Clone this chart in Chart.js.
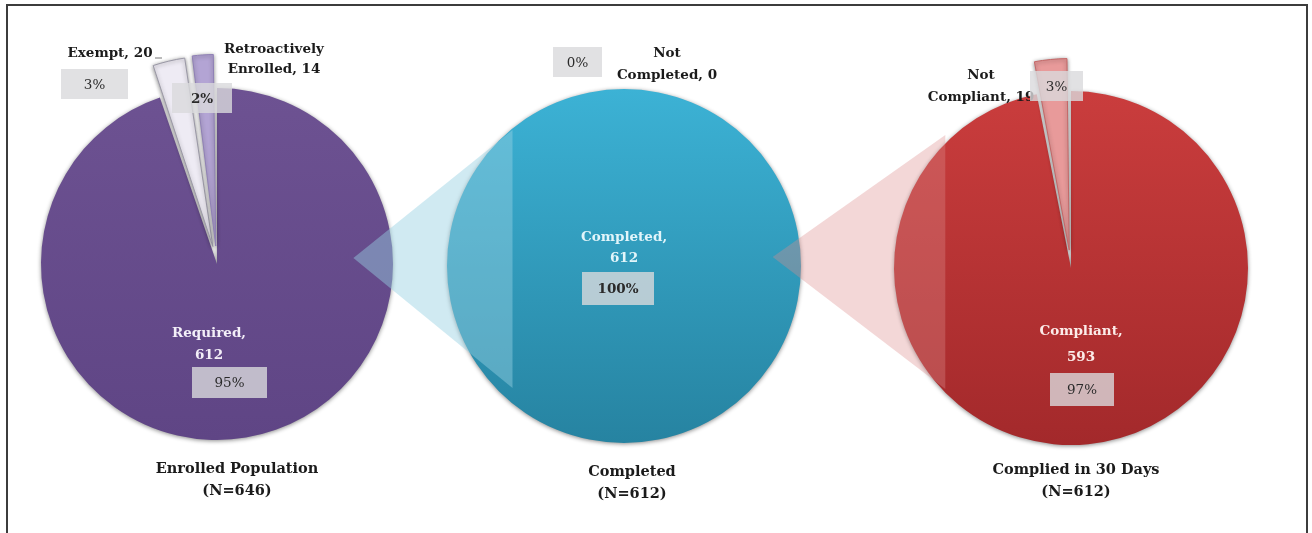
<!DOCTYPE html>
<html>
<head>
<meta charset="utf-8">
<script src="https://cdn.jsdelivr.net/npm/chart.js@4.4.1/dist/chart.umd.min.js"></script>
<style>
  html, body { margin: 0; padding: 0; background: #fff; }
  #wrap { position: relative; width: 1312px; height: 533px; overflow: hidden; }
  #wrap canvas { position: absolute; left: 0; top: 0; }
  #frame { position: absolute; left: 6px; top: 4px; width: 1302px; height: 600px; border: 2px solid #3c3c3c; box-sizing: border-box; }
</style>
</head>
<body>
<div id="wrap">
  <div id="frame"></div>
  <canvas id="pie1" width="1312" height="533"></canvas>
  <canvas id="pie2" width="1312" height="533"></canvas>
  <canvas id="pie3" width="1312" height="533"></canvas>
</div>
<script>
// data
const enrolledLabels = ["Required", "Exempt", "Retroactively Enrolled"];
const enrolledValues = [612, 20, 14];
const completedLabels = ["Completed", "Not Completed"];
const completedValues = [612, 0];
const compliedLabels = ["Compliant", "Not Compliant"];
const compliedValues = [593, 19];
const chartTitles = ["Enrolled Population", "Completed", "Complied in 30 Days"];

const W = 1312, H = 533;
const SERIF = '"DejaVu Serif", "Liberation Serif", serif';

// layout: pie centre/radius, and label offsets from the pie centre
const pies = [
  {
    cx: 217, cy: 264, r: 176,
    main: ["#6d5292", "#5f4585"], colors: [null, "#eeebf4", "#b3a4d4"],
    borders: ["rgba(0,0,0,0)", "#9a98a6", "#8f80b5"], offsets: [0, 72, 72],
    slices: [
      { lines: [[-8, 69], [-8, 91]], wrap: true, color: "#f3eff8", box: [-25, 103, 75, 31], boxBold: false },
      { lines: [[-107, -211]], wrap: false, color: "#1b1b1b", box: [-156, -195, 67, 30], boxBold: false, leader: [[-62, -206], [-55, -206]] },
      { lines: [[57, -215], [57, -195]], wrap: true, color: "#1b1b1b", box: [-45, -181, 60, 30], boxBold: true },
    ],
    title: [20, 205],
  },
  {
    cx: 624, cy: 266, r: 177,
    main: ["#3cb2d5", "#2683a1"], colors: [null, "#9fd6e6"],
    borders: ["rgba(0,0,0,0)", "#ffffff"], offsets: [0, 0],
    slices: [
      { lines: [[0, -29], [0, -8]], wrap: true, color: "#e2f5fa", box: [-42, 6, 72, 33], boxBold: true },
      { lines: [[43, -213], [43, -191]], wrap: true, color: "#1b1b1b", box: [-71, -219, 49, 30], boxBold: false },
    ],
    title: [8, 206],
  },
  {
    cx: 1071, cy: 268, r: 177,
    main: ["#ca3d3d", "#a3292b"], colors: [null, "#e89a9a"],
    borders: ["rgba(0,0,0,0)", "#c46666"], offsets: [0, 72],
    slices: [
      { lines: [[10, 63], [10, 89]], wrap: true, color: "#fcece9", box: [-21, 105, 64, 33], boxBold: false },
      { lines: [[-90, -193], [-90, -171]], wrap: true, color: "#1b1b1b", box: [-41, -197, 53, 30], boxBold: false },
    ],
    title: [5, 202],
  },
];

// translucent "pie of pie" connectors: apex near the previous pie, base as a vertical edge inside the next one
const connectors = [
  { from: 0, to: 1, apex: [0.775, -6], baseX: -0.63, baseTop: -136, baseBottom: 122, fill: "rgba(150, 208, 226, 0.45)" },
  { from: 1, to: 2, apex: [0.84, -9], baseX: -0.71, baseTop: -133, baseBottom: 121, fill: "rgba(222, 140, 140, 0.35)" },
];

const charts = [];

function wrapText(label, value, wrap) {
  const text = label + ", " + value;
  if (!wrap) return [text];
  const i = text.indexOf(" ");
  return [text.slice(0, i), text.slice(i + 1)];
}

function drawConnectors(ctx, list) {
  connectors.forEach((c) => {
    const a = list[c.from].getDatasetMeta(0).data[0];
    const b = list[c.to].getDatasetMeta(0).data[0];
    const ax = a.x + c.apex[0] * a.outerRadius, ay = a.y + c.apex[1];
    const bx = b.x + c.baseX * b.outerRadius;
    ctx.save();
    ctx.beginPath();
    ctx.moveTo(ax, ay);
    ctx.lineTo(bx, b.y + c.baseTop);
    ctx.lineTo(bx, b.y + c.baseBottom);
    ctx.closePath();
    ctx.fillStyle = c.fill;
    ctx.fill();
    ctx.restore();
  });
}

function makePie(id, idx, labels, values) {
  const pie = pies[idx];
  const half = 190;
  const total = values.reduce((s, v) => s + v, 0);

  const decor = {
    id: "decor" + idx,
    beforeDatasetsDraw(chart) {
      const ctx = chart.ctx;
      ctx.save();
      ctx.shadowColor = "rgba(0,0,0,0.45)";
      ctx.shadowBlur = 4;
      ctx.shadowOffsetY = 1;
    },
    afterDatasetsDraw(chart) {
      chart.ctx.restore();
      if (idx === 2) drawConnectors(chart.ctx, charts.slice(0, 2).concat([chart]));
    },
    afterDraw(chart) {
      const ctx = chart.ctx;
      const arc = chart.getDatasetMeta(0).data[0];
      const x0 = arc.x, y0 = arc.y;
      ctx.save();
      ctx.textAlign = "center";
      ctx.textBaseline = "middle";
      pie.slices.forEach((s, i) => {
        const lines = wrapText(labels[i], values[i], s.wrap);
        ctx.fillStyle = s.color;
        ctx.font = "bold 13.5px " + SERIF;
        lines.forEach((t, k) => ctx.fillText(t, x0 + s.lines[k][0], y0 + s.lines[k][1]));
        if (s.leader) {
          ctx.strokeStyle = "#777";
          ctx.lineWidth = 1;
          ctx.beginPath();
          ctx.moveTo(x0 + s.leader[0][0], y0 + s.leader[0][1]);
          ctx.lineTo(x0 + s.leader[1][0], y0 + s.leader[1][1]);
          ctx.stroke();
        }
      });
      pie.slices.forEach((s, i) => {
        const [bx, by, bw, bh] = s.box;
        ctx.fillStyle = "rgba(218, 218, 220, 0.8)";
        ctx.fillRect(x0 + bx, y0 + by, bw, bh);
        ctx.fillStyle = "#2a2a2a";
        ctx.font = (s.boxBold ? "bold " : "") + "13.5px " + SERIF;
        const pct = Math.round((values[i] / total) * 100) + "%";
        ctx.fillText(pct, x0 + bx + bw / 2, y0 + by + bh / 2 + 1);
      });
      ctx.fillStyle = "#1b1b1b";
      ctx.font = "bold 14.5px " + SERIF;
      ctx.fillText(chartTitles[idx], x0 + pie.title[0], y0 + pie.title[1]);
      ctx.fillText("(N=" + total + ")", x0 + pie.title[0], y0 + pie.title[1] + 22);
      ctx.restore();
    },
  };

  const chart = new Chart(document.getElementById(id), {
    type: "pie",
    data: {
      labels,
      datasets: [{
        data: values,
        backgroundColor: (c) => {
          if (c.dataIndex !== 0) return pie.colors[c.dataIndex];
          const g = c.chart.ctx.createLinearGradient(0, pie.cy - pie.r, 0, pie.cy + pie.r);
          g.addColorStop(0, pie.main[0]);
          g.addColorStop(1, pie.main[1]);
          return g;
        },
        borderColor: pie.borders,
        borderWidth: pie.borders.map((b, i) => (i === 0 ? 0 : 1)),
        offset: pie.offsets,
      }],
    },
    options: {
      responsive: false,
      animation: false,
      events: [],
      radius: pie.r,
      layout: {
        padding: { left: pie.cx - half, right: W - pie.cx - half, top: pie.cy - half, bottom: H - pie.cy - half },
      },
      plugins: { legend: { display: false }, tooltip: { enabled: false } },
    },
    plugins: [decor],
  });
  charts.push(chart);
  return chart;
}

makePie("pie1", 0, enrolledLabels, enrolledValues);
makePie("pie2", 1, completedLabels, completedValues);
makePie("pie3", 2, compliedLabels, compliedValues);
</script>
</body>
</html>
